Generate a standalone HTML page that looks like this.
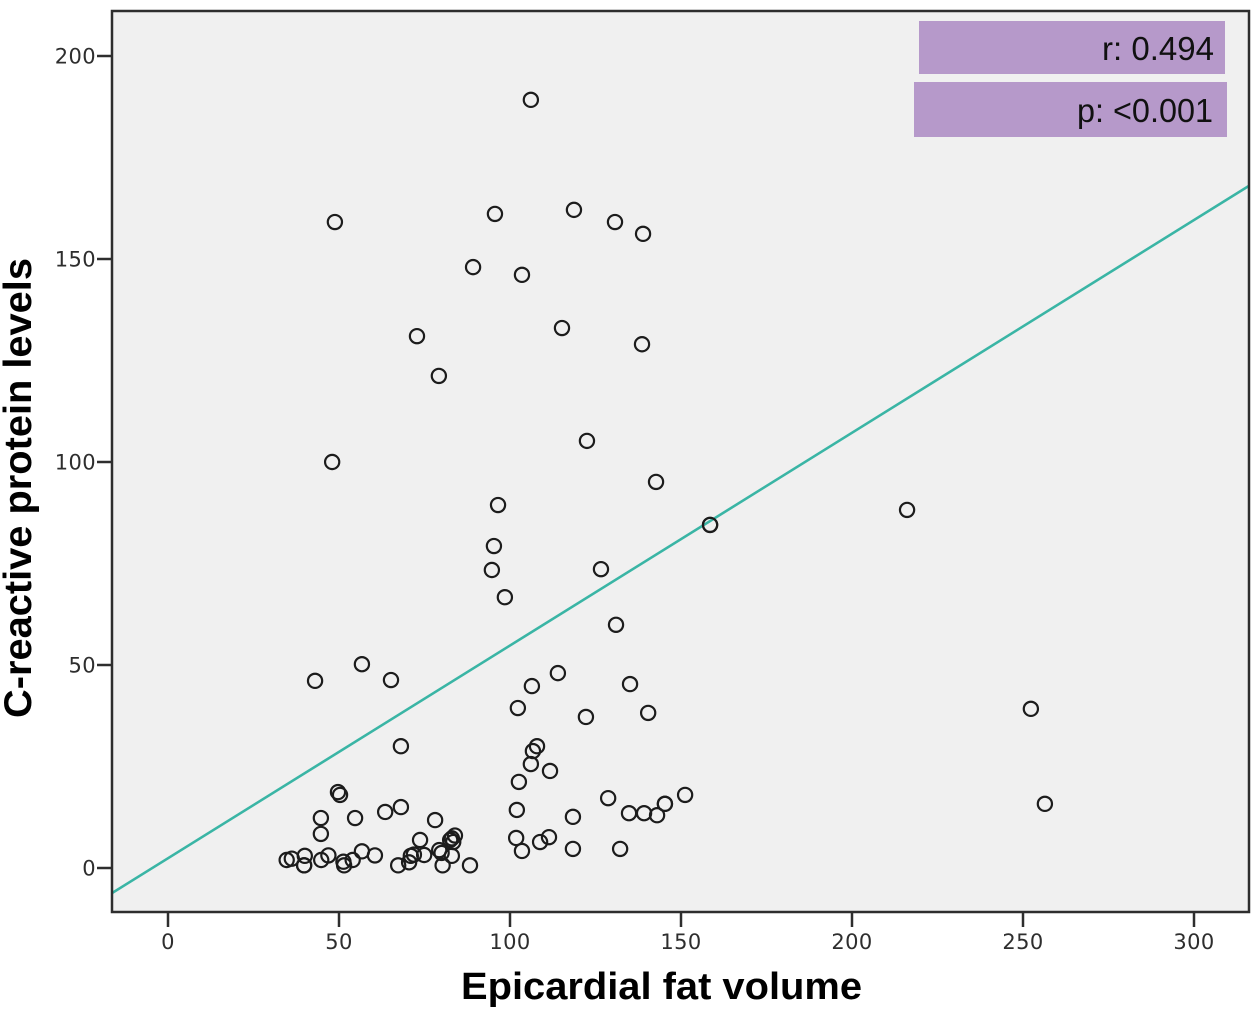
<!DOCTYPE html>
<html lang="en">
<head>
<meta charset="utf-8">
<title>Epicardial fat volume vs C-reactive protein levels</title>
<style>
html,body{margin:0;padding:0;background:#fff;width:1258px;height:1009px;overflow:hidden}
svg{display:block}
.tick-label{font-family:"DejaVu Sans",sans-serif;font-size:21px;fill:#2e2e2e;letter-spacing:0.4px}
.axis-title{font-family:"Liberation Sans",Arial,sans-serif;font-weight:bold;font-size:38px;fill:#000}
.stat{font-family:"Liberation Sans",Arial,sans-serif;font-size:33px;fill:#111}
</style>
</head>
<body>
<svg id="chart" xmlns="http://www.w3.org/2000/svg" width="1258" height="1009" viewBox="0 0 1258 1009">
  <defs><clipPath id="plot-clip"><rect x="112" y="11" width="1137" height="901"/></clipPath></defs>
  <rect x="112" y="11" width="1137" height="901" fill="#f0f0f0"/>
  <g id="fit-layer" clip-path="url(#plot-clip)"></g>
  <g id="point-layer"></g>
  <rect x="112" y="11" width="1137" height="901" fill="none" stroke="#2e2e2e" stroke-width="2.5"/>
  <g id="tick-layer"></g>
  <rect x="919" y="21" width="306" height="53" fill="#b699ca"/>
  <text class="stat" x="1214" y="60" text-anchor="end" textLength="112" lengthAdjust="spacingAndGlyphs">r: 0.494</text>
  <rect x="914" y="82" width="313" height="55" fill="#b699ca"/>
  <text class="stat" x="1213" y="122" text-anchor="end" textLength="136" lengthAdjust="spacingAndGlyphs">p: &lt;0.001</text>
  <text class="axis-title" x="661.5" y="999" text-anchor="middle" textLength="401" lengthAdjust="spacingAndGlyphs">Epicardial fat volume</text>
  <text class="axis-title" style="font-size:39px" transform="translate(31,488) rotate(-90)" text-anchor="middle" textLength="460" lengthAdjust="spacingAndGlyphs">C-reactive protein levels</text>
</svg>
<script>
const xTickValues = [0, 50, 100, 150, 200, 250, 300];
const yTickValues = [0, 50, 100, 150, 200];
const fatVolume = [
  106.1, 48.8, 95.6, 118.7, 130.7, 138.9, 89.2, 103.5, 115.2, 72.8, 138.6, 79.2,
  122.5, 48, 142.7, 96.5, 216.1, 158.5, 158.5, 95.3, 94.7, 126.6, 98.5, 131,
  56.7, 114, 65.2, 43, 106.4, 135.1, 102.3, 252.3, 140.4, 122.2, 68.1, 107.9,
  106.7, 106.1, 111.7, 102.6, 49.7, 50.3, 151.2, 128.7, 145.3, 145.3, 256.4, 68.1,
  63.5, 102, 134.8, 139.2, 143, 118.4, 44.7, 54.7, 78.1, 44.7, 101.8, 111.4,
  108.8, 118.4, 132.2, 103.5, 34.7, 36.2, 40, 39.8, 39.8, 44.8, 46.9, 51.3,
  51.5, 54, 56.7, 60.5, 67.3, 70.5, 71, 71.9, 73.7, 74.9, 79.3, 80,
  80.3, 83, 82.5, 83.9, 83.4, 83, 88.3
];
const crpLevels = [
  189.2, 159.1, 161.1, 162.1, 159.1, 156.2, 148, 146.1, 133, 131, 129, 121.2,
  105.2, 100, 95.1, 89.4, 88.2, 84.5, 84.5, 79.3, 73.4, 73.6, 66.7, 59.9,
  50.2, 48, 46.3, 46.1, 44.8, 45.3, 39.4, 39.2, 38.2, 37.2, 30, 30,
  28.8, 25.6, 23.9, 21.2, 18.7, 18, 18, 17.2, 15.8, 15.8, 15.8, 15,
  13.8, 14.3, 13.5, 13.5, 13, 12.6, 12.3, 12.3, 11.8, 8.4, 7.4, 7.6,
  6.4, 4.7, 4.7, 4.2, 1.97, 2.3, 3, 0.66, 0.66, 1.97, 3.1, 1.55,
  0.66, 1.97, 4.1, 3.1, 0.66, 1.4, 3, 3.3, 6.9, 3.2, 4.4, 3.7,
  0.66, 3, 6.9, 8, 6.4, 7.3, 0.66
];
const fitIntercept = 2.4;
const fitSlope = 0.524;
const xDomainEnds = [-16.4, 316];

const NS = 'http://www.w3.org/2000/svg';
function xScale(v) { return 168 + 3.42 * v; }
function yScale(v) { return 868 - 4.06 * v; }
function make(tag, attrs, parent) {
  const el = document.createElementNS(NS, tag);
  for (const k in attrs) el.setAttribute(k, attrs[k]);
  parent.appendChild(el);
  return el;
}

const fitLayer = document.getElementById('fit-layer');
const fit = make('line', {
  x1: xScale(xDomainEnds[0]), y1: yScale(fitIntercept + fitSlope * xDomainEnds[0]),
  x2: xScale(xDomainEnds[1]), y2: yScale(fitIntercept + fitSlope * xDomainEnds[1]),
  stroke: '#3ab5a5', 'stroke-width': 2.6
}, fitLayer);



const pointLayer = document.getElementById('point-layer');
fatVolume.forEach(function (v, i) {
  const c = make('circle', {
    cx: xScale(v), cy: yScale(crpLevels[i]), r: 7.1,
    fill: 'none', stroke: '#1c1c1c', 'stroke-width': 2.2
  }, pointLayer);
  
  
});

const tickLayer = document.getElementById('tick-layer');
xTickValues.forEach(function (v) {
  const t = make('line', { x1: xScale(v), x2: xScale(v), y1: 912, y2: 927, stroke: '#2e2e2e', 'stroke-width': 2.5 }, tickLayer);
  
  
  const l = make('text', { x: xScale(v), y: 949, 'text-anchor': 'middle', class: 'tick-label' }, tickLayer);
  
  
  l.textContent = String(v);
});
yTickValues.forEach(function (v) {
  const t = make('line', { x1: 97, x2: 112, y1: yScale(v), y2: yScale(v), stroke: '#2e2e2e', 'stroke-width': 2.5 }, tickLayer);
  
  
  const l = make('text', { x: 96, y: yScale(v) + 7.5, 'text-anchor': 'end', class: 'tick-label' }, tickLayer);
  
  
  l.textContent = String(v);
});
</script>
</body>
</html>
